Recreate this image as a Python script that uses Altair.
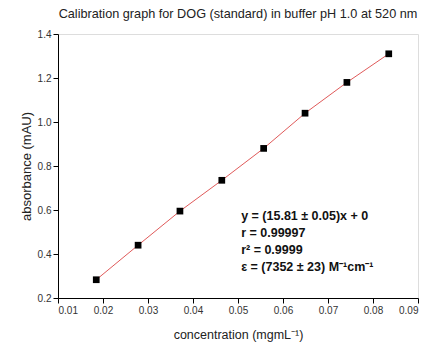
import altair as alt
import pandas as pd

conc = [0.0185, 0.0278, 0.0371, 0.0464, 0.0557, 0.0649, 0.0742, 0.0835]
absb = [0.283, 0.440, 0.595, 0.735, 0.880, 1.040, 1.180, 1.310]

ann_lines = ["y = (15.81 ± 0.05)x + 0", "r = 0.99997", "r² = 0.9999", "ε = (7352 ± 23) M⁻¹cm⁻¹"]
ann_x = [0.0507]
ann_y = [0.575]

x_ticks = [round(0.01 + 0.005 * i, 3) for i in range(17)]
y_ticks = [round(0.2 + 0.1 * i, 1) for i in range(13)]

df = pd.DataFrame({"c": conc, "a": absb})
ann = pd.DataFrame({"x": ann_x, "y": ann_y, "t": ["\n".join(ann_lines)]})

FONT = "Liberation Sans"

xaxis = alt.Axis(
    title="concentration (mgmL⁻¹)", values=x_ticks, grid=False,
    labelExpr="round(datum.value*1000)%10==0 ? format(datum.value,'.2f') : ''",
    tickSize={"condition": {"test": "round(datum.value*1000)%10==0", "value": 5}, "value": 3},
    domainColor="#000", tickColor="#000", labelColor="#333", labelFontSize=10,
    titleFontSize=12.5, titleFontWeight="normal", titleColor="#222", titlePadding=13,
    labelFont=FONT, titleFont=FONT, labelPadding=2,
)
yaxis = alt.Axis(
    title="absorbance (mAU)", values=y_ticks, grid=False,
    labelExpr="round(datum.value*10)%2==0 ? format(datum.value,'.1f') : ''",
    tickSize={"condition": {"test": "round(datum.value*10)%2==0", "value": 5}, "value": 3},
    domainColor="#000", tickColor="#000", labelColor="#333", labelFontSize=10,
    titleFontSize=13, titleFontWeight="normal", titleColor="#222", titlePadding=4,
    labelFont=FONT, titleFont=FONT, labelPadding=2,
)

xs = alt.Scale(domain=[0.01, 0.09], nice=False, zero=False)
ys = alt.Scale(domain=[0.2, 1.4], nice=False, zero=False)

base = alt.Chart(df)
line = base.mark_line(color="#e05a5a", strokeWidth=1).encode(
    x=alt.X("c:Q", scale=xs, axis=xaxis), y=alt.Y("a:Q", scale=ys, axis=yaxis)
)
pts = base.mark_square(color="#000", size=45, opacity=1).encode(
    x=alt.X("c:Q", scale=xs), y=alt.Y("a:Q", scale=ys)
)
txt = alt.Chart(ann).mark_text(
    align="left", baseline="middle", font=FONT, fontSize=12.5, fontWeight="bold",
    lineHeight=17, color="#111", lineBreak="\n"
).encode(x=alt.X("x:Q", scale=xs), y=alt.Y("y:Q", scale=ys), text="t:N")

chart = alt.layer(line, pts, txt).properties(
    width=360, height=264,
    title=alt.TitleParams("Calibration graph for DOG (standard) in buffer pH 1.0 at 520 nm",
                          font=FONT, fontSize=12.7, fontWeight="normal", color="#222", offset=8),
    autosize=alt.AutoSizeParams(type="none"),
    padding={"left": 58, "top": 34, "right": 12, "bottom": 51},
).configure_view(stroke=None).configure(background="white")

chart.save("out.html", embed_options={"renderer": "svg", "actions": False})
